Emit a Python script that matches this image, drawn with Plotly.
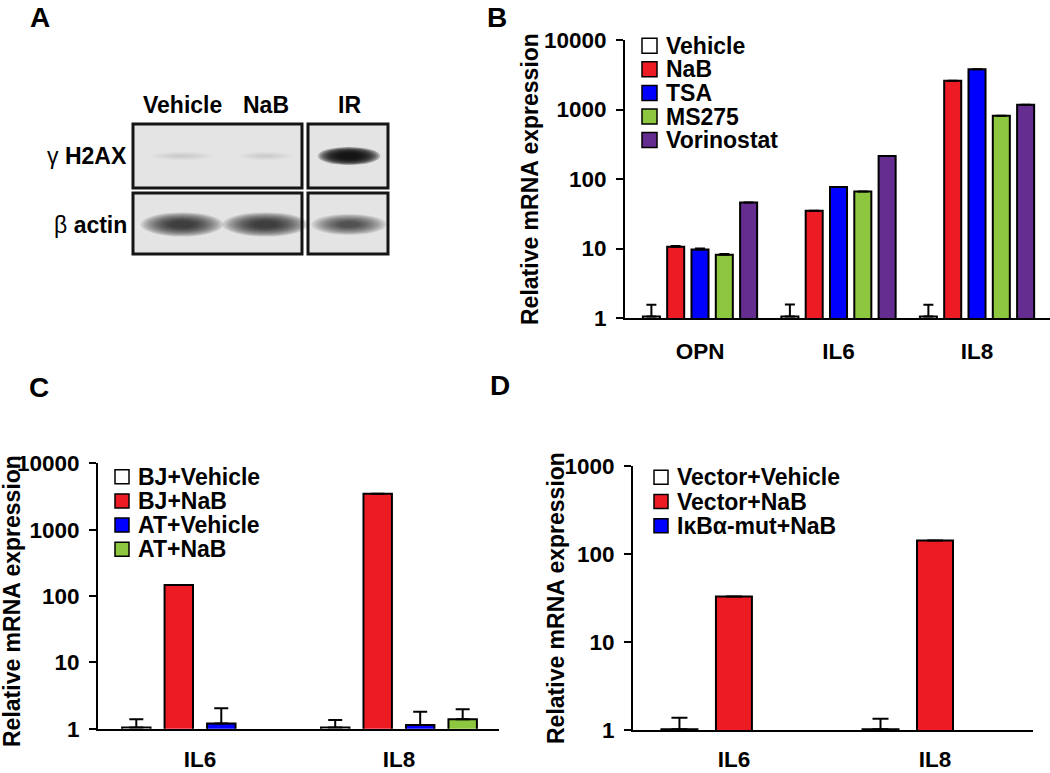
import plotly.graph_objects as go

W, H = 1050, 773
FONT = "Liberation Sans, Arial, Helvetica, sans-serif"

# ---------------- data ----------------
# Panel A (western blot): relative band darkness per lane (0 = none, 1 = saturated)
blot_lanes = ["Vehicle", "NaB", "IR"]
blot_rows = ["γ H2AX", "β actin"]
blot_h2ax = [0.07, 0.08, 0.97]
blot_actin = [0.78, 0.78, 0.66]

# Panel B
b_genes = ["OPN", "IL6", "IL8"]
b_series = ["Vehicle", "NaB", "TSA", "MS275", "Vorinostat"]
b_vehicle = [1.05, 1.05, 1.05]
b_nab = [10.6, 35, 2600]
b_tsa = [9.7, 77, 3790]
b_ms275 = [8.1, 66, 815]
b_vorinostat = [46, 214, 1170]
b_vehicle_err = [0.50, 0.52, 0.50]
b_nab_err = [0.3, None, None]
b_tsa_err = [0.3, None, None]
b_ms275_err = [0.2, None, None]
b_vorinostat_err = [None, None, None]

# Panel C
c_genes = ["IL6", "IL8"]
c_series = ["BJ+Vehicle", "BJ+NaB", "AT+Vehicle", "AT+NaB"]
c_bj_vehicle = [1.04, 1.04]
c_bj_nab = [147, 3470]
c_at_vehicle = [1.20, 1.14]
c_at_nab = [None, 1.39]
c_bj_vehicle_err = [0.35, 0.31]
c_bj_nab_err = [None, None]
c_at_vehicle_err = [0.83, 0.66]
c_at_nab_err = [None, 0.57]

# Panel D
d_genes = ["IL6", "IL8"]
d_series = ["Vector+Vehicle", "Vector+NaB", "IκBα-mut+NaB"]
d_vec_vehicle = [1.03, 1.03]
d_vec_nab = [33, 143]
d_ikba_nab = [None, None]
d_vec_vehicle_err = [0.36, 0.32]
d_vec_nab_err = [None, None]
d_ikba_nab_err = [None, None]

y_ticks = [1, 10, 100, 1000, 10000]

RED, BLUE, GREEN, PURPLE = "#ED1C24", "#0000FF", "#8DC63F", "#662D91"
b_colors = ["white", RED, BLUE, GREEN, PURPLE]
c_colors = ["white", RED, BLUE, GREEN]
d_colors = ["white", RED, BLUE]


def px(x):
    return x / W


def py(y):
    return 1 - y / H


fig = go.Figure()


def add_bars(genes, series, values, errors, colors, xa, ya, step, width, cap):
    n = len(series)
    for i, (name, vals, errs, col) in enumerate(zip(series, values, errors, colors)):
        off = (i - (n - 1) / 2) * step - width / 2
        fig.add_trace(go.Bar(
            x=genes, y=vals, name=name, offset=off, width=width,
            xaxis=xa, yaxis=ya, showlegend=False,
            marker=dict(color=col, line=dict(color="black", width=2)),
            error_y=dict(type="data", symmetric=False, array=errs,
                         arrayminus=[0] * len(genes), color="black",
                         thickness=2, width=cap),
        ))


add_bars(b_genes, b_series,
         [b_vehicle, b_nab, b_tsa, b_ms275, b_vorinostat],
         [b_vehicle_err, b_nab_err, b_tsa_err, b_ms275_err, b_vorinostat_err],
         b_colors, "x", "y", 0.1755, 0.123, 5)
add_bars(c_genes, c_series,
         [c_bj_vehicle, c_bj_nab, c_at_vehicle, c_at_nab],
         [c_bj_vehicle_err, c_bj_nab_err, c_at_vehicle_err, c_at_nab_err],
         c_colors, "x2", "y2", 0.2136, 0.143, 7)
add_bars(d_genes, d_series,
         [d_vec_vehicle, d_vec_nab, d_ikba_nab],
         [d_vec_vehicle_err, d_vec_nab_err, d_ikba_nab_err],
         d_colors, "x3", "y3", 0.271, 0.179, 8)

tickfont = dict(family=FONT, size=22.5, color="black", weight="bold")


def xaxis_cfg(domain, rng, anchor, standoff):
    return dict(domain=domain, range=rng, type="category", anchor=anchor,
                showline=True, linecolor="black", linewidth=2, ticks="",
                showgrid=False, zeroline=False, tickfont=tickfont,
                ticklabelstandoff=standoff, fixedrange=True, automargin=False)


def yaxis_cfg(domain, top, anchor):
    vals = [v for v in y_ticks if v <= 10 ** top]
    return dict(domain=domain, type="log", range=[0, top], anchor=anchor,
                tickmode="array", tickvals=vals, ticktext=[str(v) for v in vals],
                ticks="outside", ticklen=7, tickwidth=2, tickcolor="black",
                showline=True, linecolor="black", linewidth=2,
                showgrid=False, zeroline=False, tickfont=tickfont,
                ticklabelstandoff=5, fixedrange=True, automargin=False)


fig.update_layout(
    width=W, height=H, autosize=False,
    margin=dict(l=0, r=0, t=0, b=0, pad=0, autoexpand=False),
    paper_bgcolor="white", plot_bgcolor="rgba(0,0,0,0)",
    barmode="overlay", showlegend=False,
    font=dict(family=FONT, color="black"),
    xaxis=xaxis_cfg([px(625), 1.0], [-0.5415, 2.527], "y", 12),
    yaxis=yaxis_cfg([py(318), py(40)], 4, "x"),
    xaxis2=xaxis_cfg([px(98), px(499)], [-0.513, 1.503], "y2", 9),
    yaxis2=yaxis_cfg([py(728.7), py(463.3)], 4, "x2"),
    xaxis3=xaxis_cfg([px(633), px(1032.7)], [-0.502, 1.486], "y3", 8),
    yaxis3=yaxis_cfg([py(730.3), py(466)], 3, "x3"),
    # panel A canvas: lanes at x = 0,1,2 ; rows at y = 0,1
    xaxis4=dict(domain=[0, 0.4], range=[-182 / 83.5, (420 - 182) / 83.5],
                visible=False, anchor="y4", fixedrange=True, automargin=False),
    yaxis4=dict(domain=[py(280), 1], range=[(280 - 156) / 68.5, -156 / 68.5],
                visible=False, anchor="x4", fixedrange=True, automargin=False),
)

shapes = []
annotations = []

TEXT_FONT = dict(family=FONT, size=23, color="black", weight="bold")
LETTER_FONT = dict(family=FONT, size=28, color="black", weight="bold")


# ---------------- manual legends ----------------
def add_legend(series, colors, box_x, y0, dy, size):
    for i, (name, col) in enumerate(zip(series, colors)):
        yc = y0 + i * dy
        shapes.append(dict(type="rect", xref="paper", yref="paper",
                           x0=px(box_x), x1=px(box_x + size),
                           y0=py(yc + size / 2), y1=py(yc - size / 2),
                           fillcolor=col, line=dict(color="black", width=1.5)))
        annotations.append(dict(x=px(box_x + size + 7), y=py(yc), xref="paper",
                                yref="paper", text=name, showarrow=False,
                                xanchor="left", yanchor="middle", font=TEXT_FONT))


add_legend(b_series, b_colors, 642, 45.7, 23.6, 15)
add_legend(c_series, c_colors, 115, 476.7, 24.2, 14)
add_legend(d_series, d_colors, 654, 477.3, 24.2, 14)

# ---------------- y-axis titles ----------------
for xc, yc in [(530, 179), (12, 601), (556, 598)]:
    annotations.append(dict(x=px(xc), y=py(yc), xref="paper", yref="paper",
                            text="Relative mRNA expression", textangle=-90,
                            showarrow=False, xanchor="center", yanchor="middle",
                            font=TEXT_FONT))

# ---------------- panel letters ----------------
for letter, xc, ytop in [("A", 40, 0), ("B", 497, 0)]:
    annotations.append(dict(x=px(xc), y=py(ytop), xref="paper", yref="paper",
                            text=letter, showarrow=False, xanchor="center",
                            yanchor="top", font=LETTER_FONT))
for letter, xc, yc in [("C", 39, 387), ("D", 500, 385)]:
    annotations.append(dict(x=px(xc), y=py(yc), xref="paper", yref="paper",
                            text=letter, showarrow=False, xanchor="center",
                            yanchor="middle", font=LETTER_FONT))

# ---------------- panel A: western blot ----------------
BOX = "#e4e4e4"
for r in range(len(blot_rows)):
    y0, y1 = (r - 0.467, r + 0.467) if r == 0 else (r - 0.46, r + 0.43)
    shapes.append(dict(type="rect", xref="x4", yref="y4", x0=-0.587, x1=1.437,
                       y0=y0, y1=y1, fillcolor=BOX, line=dict(color="#151515", width=3)))
    shapes.append(dict(type="rect", xref="x4", yref="y4", x0=1.509, x1=2.467,
                       y0=y0, y1=y1, fillcolor=BOX, line=dict(color="#151515", width=3)))

# band half sizes (lane units / row units) for each row, per lane
band_hw = [[0.36, 0.30, 0.34], [0.45, 0.47, 0.41]]
band_hh = [[0.06, 0.06, 0.12], [0.16, 0.16, 0.14]]
NL = 12
for r, row_vals in enumerate([blot_h2ax, blot_actin]):
    for lane, dark in enumerate(row_vals):
        hw, hh = band_hw[r][lane], band_hh[r][lane]
        a = 1 - (1 - dark) ** (1 / NL)  # layered so the core reaches `dark`
        for k in range(NL):
            s = 1.1 - 0.8 * k / (NL - 1)
            shapes.append(dict(type="circle", xref="x4", yref="y4",
                               x0=lane - hw * s, x1=lane + hw * s,
                               y0=r - hh * s, y1=r + hh * s,
                               fillcolor="rgba(15,15,15,%.3f)" % a,
                               line=dict(width=0)))

for lane, name in enumerate(blot_lanes):
    annotations.append(dict(x=lane, y=-0.745, xref="x4", yref="y4", text=name,
                            showarrow=False, xanchor="center", yanchor="middle",
                            font=TEXT_FONT))
row_texts = ["γ <b>H2AX</b>", "β <b>actin</b>"]
for r, txt in enumerate(row_texts):
    annotations.append(dict(x=-0.64, y=r, xref="x4", yref="y4", text=txt,
                            showarrow=False, xanchor="right", yanchor="middle",
                            font=dict(family=FONT, size=23, color="black")))

fig.update_layout(shapes=shapes, annotations=annotations)
fig.write_html("out.html", config={"displayModeBar": False},
               post_script="document.body.style.margin='0px';")
